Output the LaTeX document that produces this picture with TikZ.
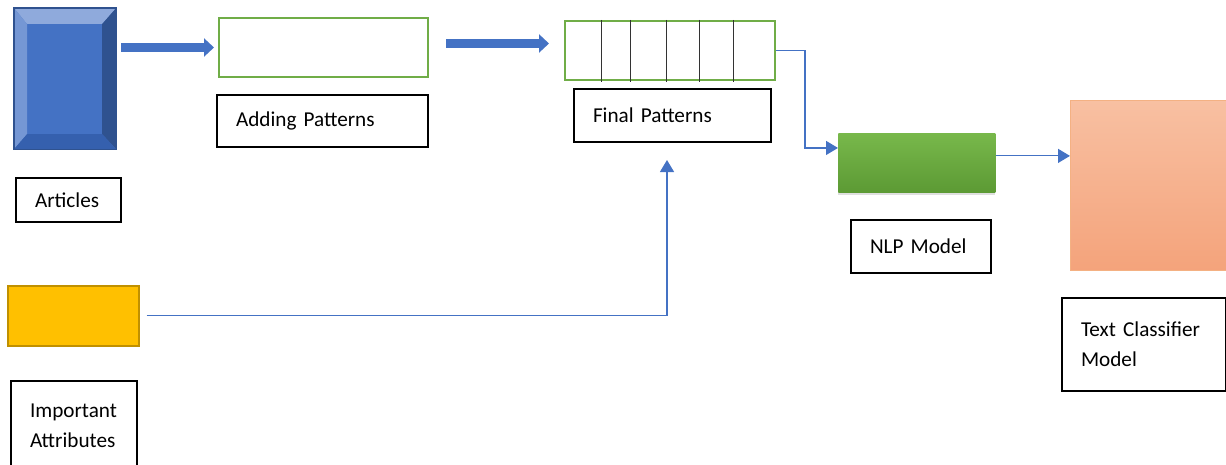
\documentclass[tikz,border=0pt]{standalone}
\usepackage{fontspec}
\setmainfont{Carlito}
\usetikzlibrary{arrows.meta,shadows,calc}

\definecolor{bluefill}{HTML}{4472C4}
\definecolor{bluedark}{HTML}{2F528F}
\definecolor{bluelight}{HTML}{8FAADC}
\definecolor{bluemid}{HTML}{7597D4}
\definecolor{bluedeep}{HTML}{3560AE}
\definecolor{greenline}{HTML}{70AD47}
\definecolor{greentop}{HTML}{78B84B}
\definecolor{greenbot}{HTML}{5C9A34}
\definecolor{orangetop}{HTML}{F8C0A2}
\definecolor{orangebot}{HTML}{F4A37B}
\definecolor{orangeline}{HTML}{F4B183}
\definecolor{yellowfill}{HTML}{FFC000}
\definecolor{yellowline}{HTML}{C09000}

\tikzset{
  lbl/.style={draw,line width=1pt,anchor=north west,align=left,
    inner xsep=9.5pt,inner ysep=0pt,font=\fontsize{10.6}{15}\selectfont},
  greenbox/.style={draw=greenline,line width=1pt,anchor=north west,fill=white},
  bigarrow/.style={draw=bluefill,line width=4.5pt,
    -{Triangle[length=5pt,width=9pt]}},
  thinarrow/.style={draw=bluefill,line width=0.6pt,
    -{Triangle[length=6pt,width=7pt]}}
}

\begin{document}
\begin{tikzpicture}[x=0.5pt,y=-0.5pt]
  \useasboundingbox (0,0) rectangle (1226,465);

  % articles (bevelled block)
  \node[draw=bluedark,fill=bluefill,line width=0.6pt,anchor=north west,
    minimum width=50.5pt,minimum height=70pt,inner sep=0pt] (art) at (14,8) {};
  \fill[bluelight] (art.north west) -- (art.north east)
    -- ($(art.north east)+(-14,16)$) -- ($(art.north west)+(13,16)$) -- cycle;
  \fill[bluemid] (art.north west) -- ($(art.north west)+(13,16)$)
    -- ($(art.south west)+(13,-15)$) -- (art.south west) -- cycle;
  \fill[bluedark] (art.north east) -- ($(art.north east)+(-14,16)$)
    -- ($(art.south east)+(-14,-15)$) -- (art.south east) -- cycle;
  \fill[bluedeep] (art.south west) -- ($(art.south west)+(13,-15)$)
    -- ($(art.south east)+(-14,-15)$) -- (art.south east) -- cycle;
  \draw[bluedark,line width=0.6pt] (art.north west) rectangle (art.south east);

  % pattern boxes
  \node[greenbox,minimum width=104.5pt,minimum height=29.5pt] (add) at (218,17) {};
  \node[greenbox,minimum width=105pt,minimum height=29.5pt] (fin) at (564,20) {};
  \foreach \x in {601,630,666,699,733}
    \draw[black!80,line width=0.4pt] (\x,0 |- fin.north) -- ($(\x,0 |- fin.south)+(0,1)$);

  % models and attributes
  \node[anchor=north west,minimum width=78.5pt,minimum height=29.5pt,
    top color=greentop,bottom color=greenbot,
    drop shadow={opacity=0.25,shadow xshift=0pt,shadow yshift=-1.5pt}] (nlp) at (838,133) {};
  \node[anchor=north west,minimum width=78pt,minimum height=85pt,draw=orangeline,
    top color=orangetop,bottom color=orangebot] (cls) at (1070,100) {};
  \node[anchor=north west,minimum width=65.5pt,minimum height=30pt,
    draw=yellowline,fill=yellowfill,line width=0.8pt] (att) at (7,285) {};

  % labels
  \node[lbl,text width=33.5pt,minimum height=22pt] (lart) at (15,177) {Articles};
  \node[lbl,text width=86.5pt,minimum height=26pt] (ladd) at (216,94) {Adding Patterns};
  \node[lbl,text width=79.5pt,minimum height=26.5pt] (lfin) at (573,88) {Final Patterns};
  \node[lbl,text width=51pt,minimum height=26.5pt] (lnlp) at (850,219) {NLP Model};
  \node[lbl,text width=63pt,minimum height=46.5pt] (lcls) at (1061,297) {Text Classifier\\Model};
  \node[lbl,text width=44pt,minimum height=45pt] (latt) at (10,380) {Important\\Attributes};

  % connectors
  \coordinate (up) at (667,160);
  \draw[bigarrow,shorten <=2.5pt,shorten >=2pt] (art.east |- add.west) -- (add.west);
  \draw[bigarrow,shorten <=8.5pt,shorten >=7.5pt] ([yshift=2pt]add.east) -- ([yshift=2pt]add.east -| fin.west);
  \draw[thinarrow] (fin.east) -| (805,0 |- nlp.north) |- ($(nlp.north west)!0.25!(nlp.south west)$);
  \draw[thinarrow] ([yshift=3.5pt]nlp.east) -- ([yshift=3.5pt]nlp.east -| cls.west);
  \draw[thinarrow,shorten <=3.5pt] (att.east) -| (up);
\end{tikzpicture}
\end{document}
